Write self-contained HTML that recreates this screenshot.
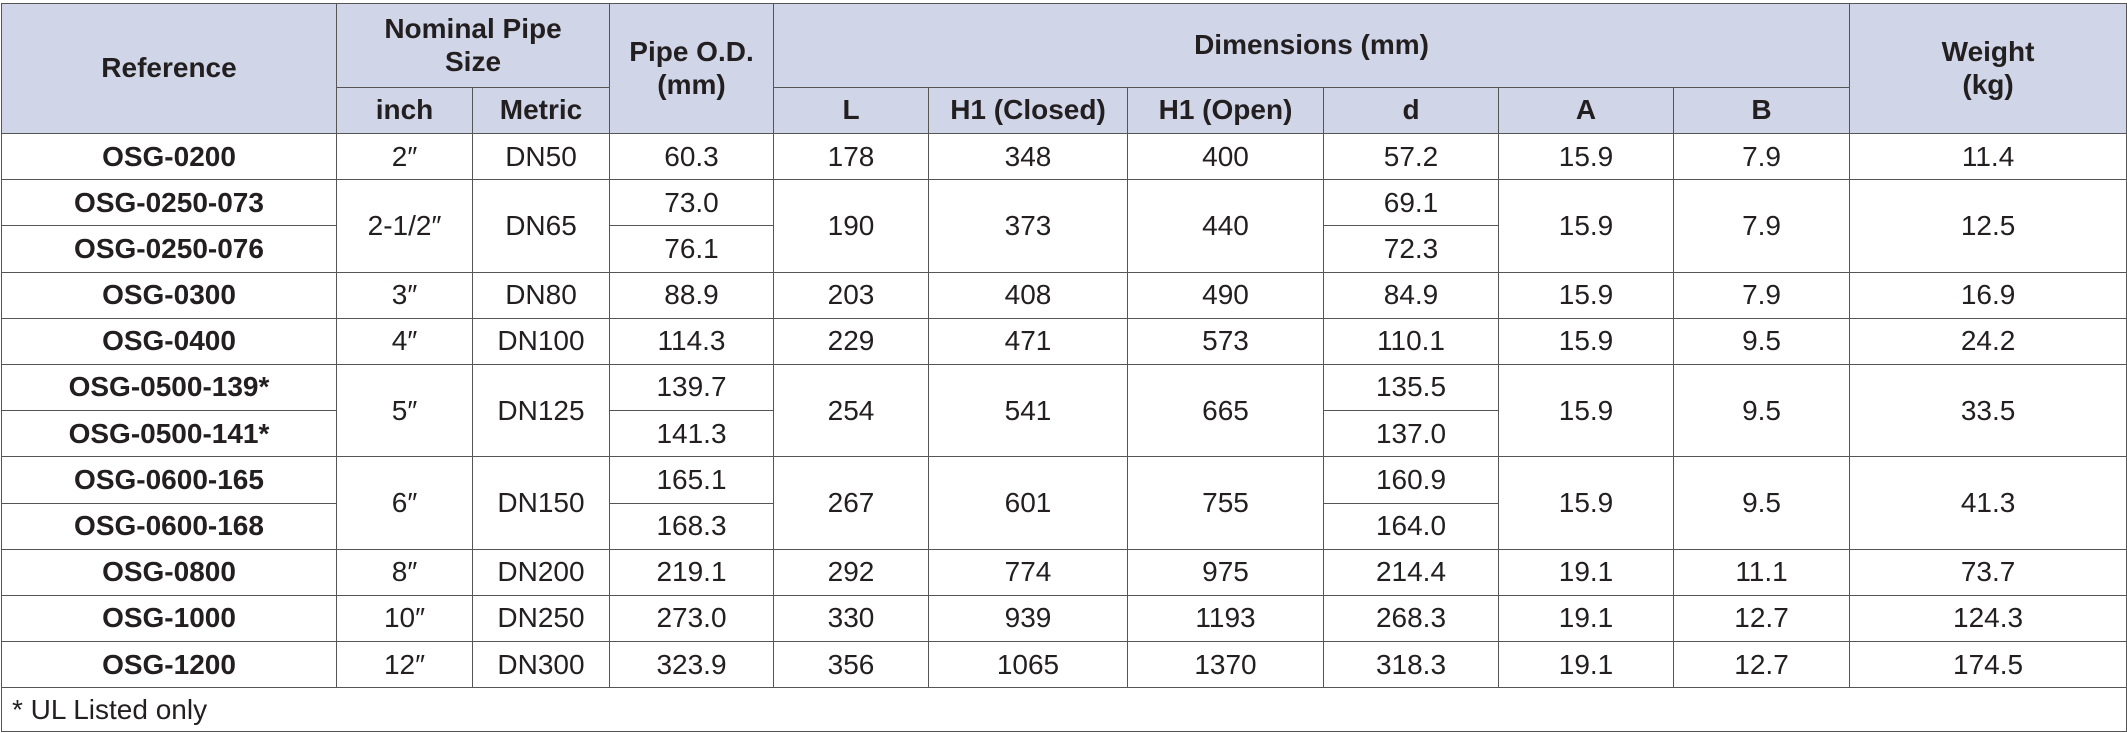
<!DOCTYPE html>
<html><head><meta charset="utf-8"><style>
html,body{margin:0;padding:0;background:#fff;width:2127px;height:733px;overflow:hidden}
table{position:absolute;left:1px;top:3px;border-collapse:collapse;table-layout:fixed;width:2125px;font-family:"Liberation Sans",sans-serif;font-size:28px;color:#231f20}
td,th{border:1.5px solid #555;text-align:center;padding:0;line-height:1.15;overflow:hidden;white-space:nowrap}
th{background:#d0d6e7;font-weight:bold;font-size:28px}
td.r{font-weight:bold}
tr.h1{height:84px}
tr.h2{height:46px}
tr.d{height:46.2px}
tr.f{height:44px}
td.fn{text-align:left;padding-left:10px;border-right:1.5px solid #555}
</style></head><body>
<table>
<colgroup><col style="width:335px"><col style="width:136px"><col style="width:137px"><col style="width:164px"><col style="width:155px"><col style="width:199px"><col style="width:196px"><col style="width:175px"><col style="width:175px"><col style="width:176px"><col style="width:277px"></colgroup>
<tr class="h1"><th rowspan="2">Reference</th><th colspan="2">Nominal Pipe<br>Size</th><th rowspan="2">Pipe O.D.<br>(mm)</th><th colspan="6">Dimensions (mm)</th><th rowspan="2">Weight<br>(kg)</th></tr>
<tr class="h2"><th>inch</th><th>Metric</th><th>L</th><th>H1 (Closed)</th><th>H1 (Open)</th><th>d</th><th>A</th><th>B</th></tr>
<tr class="d"><td class="r">OSG-0200</td><td>2″</td><td>DN50</td><td>60.3</td><td>178</td><td>348</td><td>400</td><td>57.2</td><td>15.9</td><td>7.9</td><td>11.4</td></tr>
<tr class="d"><td class="r">OSG-0250-073</td><td rowspan="2">2-1/2″</td><td rowspan="2">DN65</td><td>73.0</td><td rowspan="2">190</td><td rowspan="2">373</td><td rowspan="2">440</td><td>69.1</td><td rowspan="2">15.9</td><td rowspan="2">7.9</td><td rowspan="2">12.5</td></tr>
<tr class="d"><td class="r">OSG-0250-076</td><td>76.1</td><td>72.3</td></tr>
<tr class="d"><td class="r">OSG-0300</td><td>3″</td><td>DN80</td><td>88.9</td><td>203</td><td>408</td><td>490</td><td>84.9</td><td>15.9</td><td>7.9</td><td>16.9</td></tr>
<tr class="d"><td class="r">OSG-0400</td><td>4″</td><td>DN100</td><td>114.3</td><td>229</td><td>471</td><td>573</td><td>110.1</td><td>15.9</td><td>9.5</td><td>24.2</td></tr>
<tr class="d"><td class="r">OSG-0500-139*</td><td rowspan="2">5″</td><td rowspan="2">DN125</td><td>139.7</td><td rowspan="2">254</td><td rowspan="2">541</td><td rowspan="2">665</td><td>135.5</td><td rowspan="2">15.9</td><td rowspan="2">9.5</td><td rowspan="2">33.5</td></tr>
<tr class="d"><td class="r">OSG-0500-141*</td><td>141.3</td><td>137.0</td></tr>
<tr class="d"><td class="r">OSG-0600-165</td><td rowspan="2">6″</td><td rowspan="2">DN150</td><td>165.1</td><td rowspan="2">267</td><td rowspan="2">601</td><td rowspan="2">755</td><td>160.9</td><td rowspan="2">15.9</td><td rowspan="2">9.5</td><td rowspan="2">41.3</td></tr>
<tr class="d"><td class="r">OSG-0600-168</td><td>168.3</td><td>164.0</td></tr>
<tr class="d"><td class="r">OSG-0800</td><td>8″</td><td>DN200</td><td>219.1</td><td>292</td><td>774</td><td>975</td><td>214.4</td><td>19.1</td><td>11.1</td><td>73.7</td></tr>
<tr class="d"><td class="r">OSG-1000</td><td>10″</td><td>DN250</td><td>273.0</td><td>330</td><td>939</td><td>1193</td><td>268.3</td><td>19.1</td><td>12.7</td><td>124.3</td></tr>
<tr class="d"><td class="r">OSG-1200</td><td>12″</td><td>DN300</td><td>323.9</td><td>356</td><td>1065</td><td>1370</td><td>318.3</td><td>19.1</td><td>12.7</td><td>174.5</td></tr>
<tr class="f"><td class="fn" colspan="11">* UL Listed only</td></tr>
</table>
</body></html>
